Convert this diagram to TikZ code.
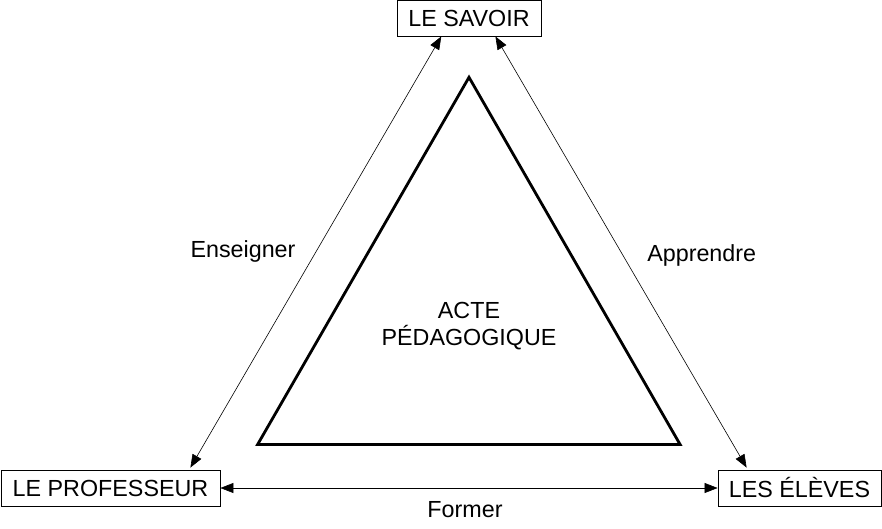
\documentclass[tikz,border=0pt]{standalone}
\usepackage{fontspec}
\setmainfont{Liberation Sans}
\usetikzlibrary{arrows.meta}

\begin{document}
\begin{tikzpicture}[x=1pt, y=-1pt,
    every node/.style={font=\fontsize{23.3}{26.5}\selectfont},
    pole/.style={draw, line width=0.8pt, inner sep=0pt, minimum height=36pt},
    fleche/.style={line width=0.6pt, {Triangle[length=13pt,width=10pt]}-{Triangle[length=13pt,width=10pt]}}]
    \useasboundingbox (0,0) rectangle (882,529);
    \node[pole, minimum width=144pt] (savoir) at (469,18) {LE SAVOIR};
    \node[pole, minimum width=219pt] (prof) at (110.5,488) {LE PROFESSEUR};
    \node[pole, minimum width=163pt] (eleves) at (799.5,488) {LES ÉLÈVES};
    \draw[fleche] ([xshift=44.7pt]savoir.south west) -- ([xshift=-30pt, yshift=2pt]prof.north east);
    \draw[fleche] ([xshift=-46pt]savoir.south east) -- ([xshift=29pt, yshift=2pt]eleves.north west);
    \draw[fleche] (prof.east) -- (eleves.west);
    \draw[line width=2.8pt] (469,77.3) -- (257.6,444.5) -- (680.1,444.5) -- cycle;
    \node[anchor=base] (enseigner) at (243,257) {Enseigner};
    \node[anchor=base] (apprendre) at (701.7,261) {Apprendre};
    \node[anchor=base] (former) at (465,517) {Former};
    \node[anchor=base, align=center] (acte) at (469,345) {ACTE\\PÉDAGOGIQUE};
\end{tikzpicture}
\end{document}
